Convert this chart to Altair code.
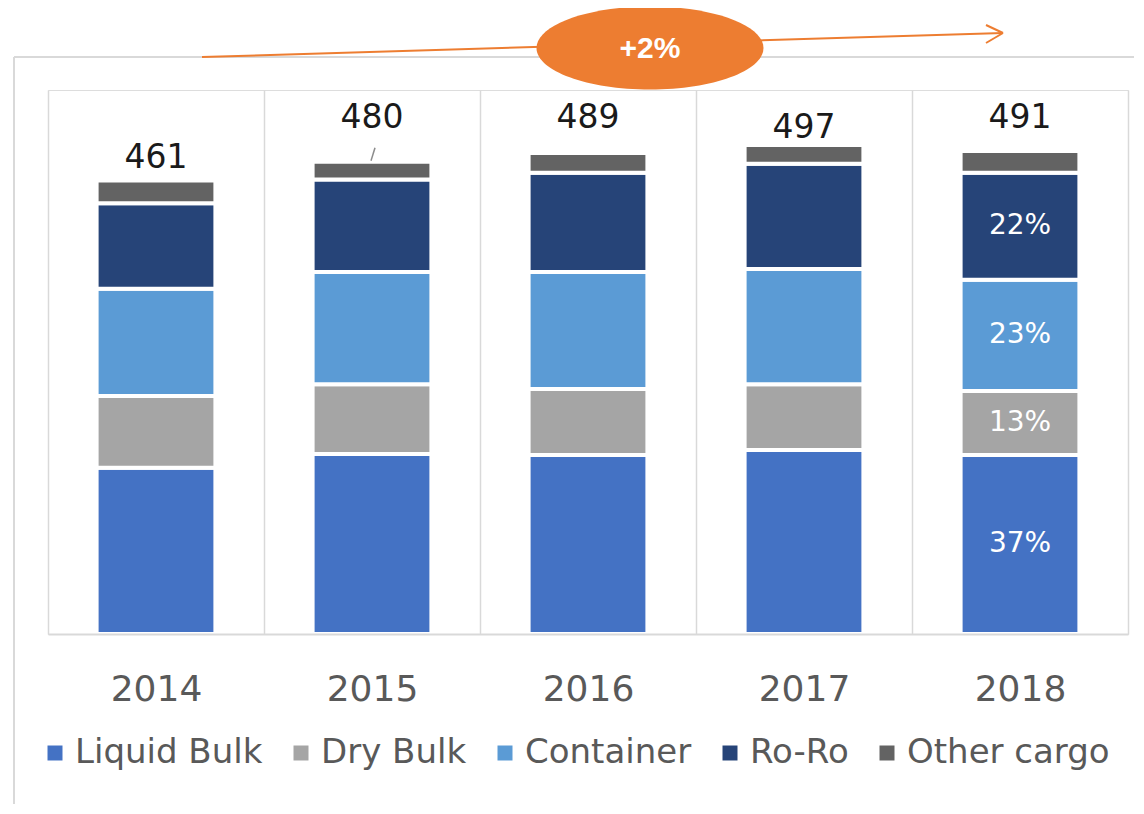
import altair as alt
import pandas as pd

# ---------------- data ----------------
years = ["2014", "2015", "2016", "2017", "2018"]
cargo_types = ["Liquid Bulk", "Dry Bulk", "Container", "Ro-Ro", "Other cargo"]
liquid_bulk = [169, 183, 182, 187, 182]
dry_bulk = [73, 71, 67, 67, 65]
container = [109, 114, 119, 117, 113]
ro_ro = [87, 94, 101, 107, 109]
other_cargo = [23, 18, 20, 19, 22]
growth_label = ["+2%"]
share_year = "2018"

# ---------------- style ----------------
cargo_colors = ["#4472C4", "#A5A5A5", "#5B9BD5", "#264478", "#636363"]
FONT = "DejaVu Sans"
W, H = 1080, 544
Y_MAX = 553
ORANGE = "#ED7D31"
GRID = "#d9d9d9"
# pixel lift of each total label above its bar (label placement only)
label_lift = {"2014": 23, "2015": 44, "2016": 35, "2017": 17, "2018": 33}

series = [liquid_bulk, dry_bulk, container, ro_ro, other_cargo]
rows = []
for i, yr in enumerate(years):
    for j, name in enumerate(cargo_types):
        rows.append({"year": yr, "cargo": name, "idx": j, "value": series[j][i]})
df = pd.DataFrame(rows)
totals = df.groupby("year", as_index=False)["value"].sum()
one = pd.DataFrame({"k": [0]})
growth_df = pd.DataFrame({"label": growth_label})

yscale = alt.Scale(domain=[0, Y_MAX], nice=False, zero=True)
x_enc = alt.X(
    "year:N",
    sort=years,
    scale=alt.Scale(paddingInner=0, paddingOuter=0),
    axis=alt.Axis(
        title=None,
        labelAngle=0,
        labelFont=FONT,
        labelFontSize=36,
        labelColor="#595959",
        labelBaseline="alphabetic",
        labelPadding=66,
        ticks=False,
        tickSize=0,
        tickBand="extent",
        grid=True,
        gridColor=GRID,
        gridWidth=1.5,
        domainColor=GRID,
        domainWidth=2,
        zindex=1,
    ),
)

bars = alt.Chart(df).mark_bar(
    width=alt.RelativeBandSize(0.55), stroke="white", strokeWidth=4
).encode(
    x=x_enc,
    y=alt.Y("value:Q", stack="zero", scale=yscale, axis=None),
    color=alt.Color(
        "cargo:N",
        scale=alt.Scale(domain=cargo_types, range=cargo_colors),
        legend=alt.Legend(
            title=None,
            orient="none",
            legendX=-10,
            legendY=646,
            direction="horizontal",
            symbolType="square",
            symbolSize=225,
            symbolStrokeWidth=0,
            labelFont=FONT,
            labelFontSize=34,
            labelColor="#595959",
            labelLimit=0,
            labelOffset=3,
            columnPadding=21,
            padding=0,
        ),
    ),
    order=alt.Order("idx:Q", sort="ascending"),
)

pct = alt.Chart(df).transform_stack(
    stack="value", groupby=["year"], as_=["y0", "y1"],
    sort=[alt.SortField("idx", order="ascending")],
).transform_joinaggregate(
    total="sum(value)", groupby=["year"]
).transform_filter(
    (alt.datum.year == share_year) & (alt.datum.cargo != "Other cargo")
).transform_calculate(
    mid="(datum.y0 + datum.y1) / 2",
    pct="format(datum.value / datum.total, '.0%')",
).mark_text(font=FONT, fontSize=28, color="white", baseline="middle").encode(
    x=x_enc,
    y=alt.Y("mid:Q", scale=yscale, axis=None),
    text="pct:N",
)

total_layers = []
for yr in years:
    total_layers.append(
        alt.Chart(totals).transform_filter(alt.datum.year == yr).mark_text(
            font=FONT, fontSize=33, color="#1a1a1a", baseline="middle",
            dy=-label_lift[yr],
        ).encode(
            x=x_enc,
            y=alt.Y("value:Q", scale=yscale, axis=None),
            text="value:Q",
        )
    )

leader = alt.Chart(totals).transform_filter(alt.datum.year == "2015").mark_rule(
    color="#8c8c8c", strokeWidth=1.5, xOffset=3, x2Offset=-1, yOffset=-14, y2Offset=-1
).encode(
    x=x_enc,
    x2=alt.X2("year:N"),
    y=alt.Y("value:Q", scale=yscale, axis=None),
    y2=alt.Y2("value:Q"),
)

# ---------------- decorations ----------------
frame_left = alt.Chart(one).mark_rule(color=GRID, strokeWidth=2).encode(
    x=alt.value(-34), y=alt.value(-33), y2=alt.value(H + 200)
)
frame_top = alt.Chart(one).mark_rule(color=GRID, strokeWidth=2).encode(
    x=alt.value(-34), x2=alt.value(W + 20), y=alt.value(-33)
)
arrow_line = alt.Chart(one).mark_rule(color=ORANGE, strokeWidth=2).encode(
    x=alt.value(154), y=alt.value(-33), x2=alt.value(955), y2=alt.value(-57)
)
arrow_up = alt.Chart(one).mark_rule(color=ORANGE, strokeWidth=2).encode(
    x=alt.value(938), y=alt.value(-65), x2=alt.value(955), y2=alt.value(-57)
)
arrow_dn = alt.Chart(one).mark_rule(color=ORANGE, strokeWidth=2).encode(
    x=alt.value(938), y=alt.value(-47), x2=alt.value(955), y2=alt.value(-57)
)
ELLIPSE = ("M-1,0C-1,-0.202,-0.552,-0.366,0,-0.366C0.552,-0.366,1,-0.202,1,0"
           "C1,0.202,0.552,0.366,0,0.366C-0.552,0.366,-1,0.202,-1,0Z")
bubble = alt.Chart(one).mark_point(
    shape=ELLIPSE, size=227 * 227, filled=True, fill=ORANGE, opacity=1, strokeWidth=0
).encode(x=alt.value(602), y=alt.value(-42))
bubble_text = alt.Chart(growth_df).mark_text(
    font="Liberation Sans", fontWeight="bold", fontSize=30, color="white", baseline="middle"
).encode(x=alt.value(602), y=alt.value(-41), text="label:N")

chart = alt.layer(
    frame_left, frame_top, arrow_line, arrow_up, arrow_dn, bubble, bubble_text,
    bars, pct, leader, *total_layers,
).properties(
    width=W,
    height=H,
    padding={"left": 40, "top": 82, "right": 6, "bottom": 170},
    autosize=alt.AutoSizeParams(type="none"),
).configure_view(stroke=None).configure(background="white")

chart.save("out.html", embed_options={"renderer": "svg", "actions": False})
